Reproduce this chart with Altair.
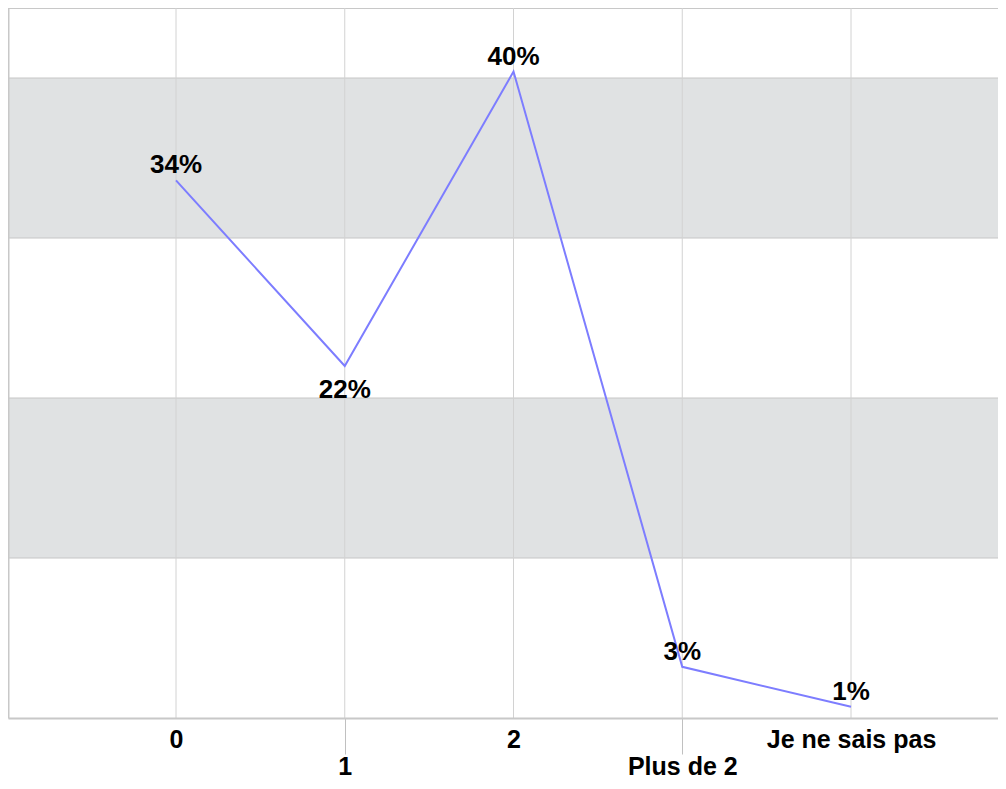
import json
import altair as alt
import pandas as pd

# ---- data ----
categories = ["0", "1", "2", "Plus de 2", "Je ne sais pas"]
values = [33.6, 22.0, 40.4, 3.2, 0.7]          # percent
labels_below = ["1"]                            # categories whose label sits under the point
band_start = [10, 30]                           # shaded horizontal bands (percent)
band_end = [20, 40]
grid_values = [10, 20, 30, 40]
y_max = 44.375
x_min, x_max = -0.9956, 4.871

df = pd.DataFrame({
    "cat": categories,
    "idx": list(range(len(categories))),
    "val": values,
})
df["label"] = [f"{round(v):.0f}%" for v in values]
df["below"] = [c in labels_below for c in categories]

bands = pd.DataFrame({"y0": band_start, "y1": band_end})
hgrid = pd.DataFrame({"y": grid_values})
top = pd.DataFrame({"y": [y_max]})

FONT = "Liberation Sans"
W, H = 990, 710

xscale = alt.Scale(domain=[x_min, x_max], nice=False, zero=False)
yscale = alt.Scale(domain=[0, y_max], nice=False, zero=True)

cats_js = json.dumps(categories)
label_expr = (
    f"datum.value % 2 == 1 ? ['', {cats_js}[datum.value]] : [{cats_js}[datum.value]]"
)

x_axis = alt.Axis(
    values=list(range(len(categories))),
    labelExpr=label_expr,
    title=None,
    grid=False,
    domainColor="#c8c8c8",
    domainWidth=2,
    tickColor={"condition": {"test": "datum.value % 2 == 1", "value": "#c0c0c0"},
               "value": "transparent"},
    tickSize=36,
    tickWidth=1,
    labelFont=FONT,
    labelFontSize=25,
    labelFontWeight="bold",
    labelColor="#000000",
    labelBaseline="top",
    labelLineHeight=27,
    labelPadding=-27,
    labelOverlap=False,
    labelFlush=False,
    zindex=1,
)
y_axis = alt.Axis(
    title=None, labels=False, ticks=False, grid=False,
    domainColor="#c8c8c8", domainWidth=2, zindex=1,
)

band_layer = alt.Chart(bands).mark_rect(color="#e0e2e3").encode(
    y=alt.Y("y0:Q", scale=yscale, axis=y_axis),
    y2="y1:Q",
    x=alt.value(0),
    x2=alt.value("width"),
)

hgrid_layer = alt.Chart(hgrid).mark_rule(color="#c6c6c6", strokeWidth=1).encode(
    y=alt.Y("y:Q", scale=yscale)
)

top_layer = alt.Chart(top).mark_rule(color="#c8c8c8", strokeWidth=2).encode(
    y=alt.Y("y:Q", scale=yscale)
)

vgrid_layer = alt.Chart(df).mark_rule(color="#d2d2d2", strokeWidth=1).encode(
    x=alt.X("idx:Q", scale=xscale, axis=x_axis)
)

line_layer = alt.Chart(df).mark_line(color="#7d7dff", strokeWidth=2).encode(
    x=alt.X("idx:Q", scale=xscale),
    y=alt.Y("val:Q", scale=yscale),
)

text_above = alt.Chart(df).transform_filter("!datum.below").mark_text(
    font=FONT, fontSize=26, fontWeight="bold", color="#000000",
    baseline="alphabetic", align="center", dy=-7,
).encode(
    x=alt.X("idx:Q", scale=xscale),
    y=alt.Y("val:Q", scale=yscale),
    text="label:N",
)

text_below = alt.Chart(df).transform_filter("datum.below").mark_text(
    font=FONT, fontSize=26, fontWeight="bold", color="#000000",
    baseline="alphabetic", align="center", dy=32,
).encode(
    x=alt.X("idx:Q", scale=xscale),
    y=alt.Y("val:Q", scale=yscale),
    text="label:N",
)

chart = alt.layer(
    band_layer, hgrid_layer, top_layer, vgrid_layer, line_layer, text_above, text_below
).properties(
    width=W, height=H,
    padding={"left": 0, "top": 0, "right": 0, "bottom": 62},
    autosize=alt.AutoSizeParams(type="none"),
    background="#ffffff",
).configure_view(stroke="transparent")

chart.save("out.html", embed_options={"renderer": "svg", "actions": False})
